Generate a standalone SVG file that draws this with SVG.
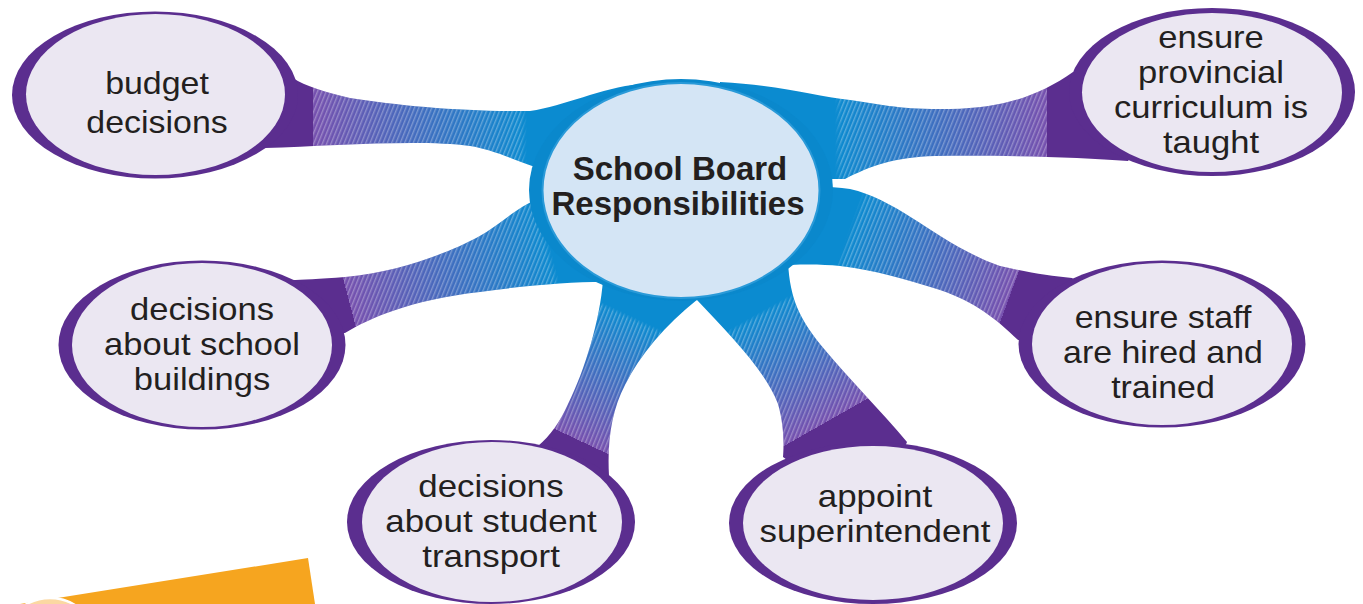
<svg xmlns="http://www.w3.org/2000/svg" width="1363" height="604" viewBox="0 0 1363 604">
<style>
.ring{fill:#5b2e8f}
.in{fill:#ebe7f2}
.t{font-family:"Liberation Sans",Arial,sans-serif;font-size:32px;fill:#231f20;text-anchor:middle}
.tb{font-family:"Liberation Sans",Arial,sans-serif;font-size:33px;font-weight:bold;fill:#231f20;text-anchor:middle}
.hatch{fill:url(#hatch);opacity:0.3}
</style>
<defs>
<pattern id="hatch" width="4" height="4" patternUnits="userSpaceOnUse" patternTransform="rotate(22)">
<rect width="1.4" height="4" fill="#ffffff"/>
</pattern>
<path id="a1" d="M640,150 L640,84 C600,88 565,106 530,111 C470,112 400,106 350,98 C325,92 305,86 293,78 L200,95 L265,148 C330,146 420,139 470,146 C490,149 510,158 535,167 L640,167 Z"/>
<path id="a2" d="M720,150 L720,82 C780,85 815,96 850,100 C880,104 900,110 950,109 C1005,108 1040,95 1073,72 L1180,92 L1128,161 C1080,157 1000,155 935,156 C895,157 870,166 845,179 L720,179 Z"/>
<path id="a3" d="M720,230 L770,186 C800,186 830,186 850,189 C900,200 940,245 1000,266 C1030,273 1050,276 1072,278 L1150,340 L1018,340 C995,318 975,302 940,290 C905,279 875,270 840,266 C820,264 800,264 770,266 Z"/>
<path id="a4" d="M640,250 L540,198 C515,208 500,225 478,237 C450,252 400,272 345,277 C320,279 300,280 292,280 L202,345 L345,333 C370,318 410,300 480,292 C530,285 570,282 603,282 L640,282 Z"/>
<path id="a5" d="M650,250 L603,280 C600,320 585,370 568,404 C560,422 550,436 538,446 L492,522 L609,476 C607,440 612,410 625,385 C640,355 665,325 698,299 L700,250 Z"/>
<path id="a6" d="M697,240 L697,300 C730,335 765,370 778,404 C784,425 784,445 783,457 L873,523 L907,442 C880,410 850,380 825,350 C800,320 790,300 788,262 Z"/>
<linearGradient id="g1" gradientUnits="userSpaceOnUse" x1="527" y1="0" x2="300" y2="0"><stop offset="0" stop-color="#0b8bd0"/><stop offset="0.943" stop-color="#7650ae"/><stop offset="0.943" stop-color="#5b2e8f"/><stop offset="1" stop-color="#5b2e8f"/></linearGradient>
<linearGradient id="g2" gradientUnits="userSpaceOnUse" x1="835" y1="0" x2="1055" y2="0"><stop offset="0" stop-color="#0b8bd0"/><stop offset="0.964" stop-color="#7650ae"/><stop offset="0.964" stop-color="#5b2e8f"/><stop offset="1" stop-color="#5b2e8f"/></linearGradient>
<linearGradient id="g3" gradientUnits="userSpaceOnUse" x1="850" y1="226" x2="1030" y2="292"><stop offset="0" stop-color="#0b8bd0"/><stop offset="0.908" stop-color="#7650ae"/><stop offset="0.908" stop-color="#5b2e8f"/><stop offset="1" stop-color="#5b2e8f"/></linearGradient>
<linearGradient id="g4" gradientUnits="userSpaceOnUse" x1="550" y1="245" x2="340" y2="300"><stop offset="0" stop-color="#0b8bd0"/><stop offset="0.961" stop-color="#7650ae"/><stop offset="0.961" stop-color="#5b2e8f"/><stop offset="1" stop-color="#5b2e8f"/></linearGradient>
<linearGradient id="g5" gradientUnits="userSpaceOnUse" x1="636" y1="318" x2="575" y2="448"><stop offset="0" stop-color="#0b8bd0"/><stop offset="0.94" stop-color="#7650ae"/><stop offset="0.94" stop-color="#5b2e8f"/><stop offset="1" stop-color="#5b2e8f"/></linearGradient>
<linearGradient id="g6" gradientUnits="userSpaceOnUse" x1="758" y1="313" x2="830" y2="440"><stop offset="0" stop-color="#0b8bd0"/><stop offset="0.88" stop-color="#7650ae"/><stop offset="0.88" stop-color="#5b2e8f"/><stop offset="1" stop-color="#5b2e8f"/></linearGradient>
<linearGradient id="m1" gradientUnits="userSpaceOnUse" x1="527" y1="0" x2="300" y2="0"><stop offset="0" stop-color="#000"/><stop offset="0.03" stop-color="#fff"/><stop offset="0.943" stop-color="#fff"/><stop offset="0.943" stop-color="#000"/></linearGradient>
<linearGradient id="m2" gradientUnits="userSpaceOnUse" x1="835" y1="0" x2="1055" y2="0"><stop offset="0" stop-color="#000"/><stop offset="0.03" stop-color="#fff"/><stop offset="0.964" stop-color="#fff"/><stop offset="0.964" stop-color="#000"/></linearGradient>
<linearGradient id="m3" gradientUnits="userSpaceOnUse" x1="850" y1="226" x2="1030" y2="292"><stop offset="0" stop-color="#000"/><stop offset="0.03" stop-color="#fff"/><stop offset="0.908" stop-color="#fff"/><stop offset="0.908" stop-color="#000"/></linearGradient>
<linearGradient id="m4" gradientUnits="userSpaceOnUse" x1="550" y1="245" x2="340" y2="300"><stop offset="0" stop-color="#000"/><stop offset="0.03" stop-color="#fff"/><stop offset="0.961" stop-color="#fff"/><stop offset="0.961" stop-color="#000"/></linearGradient>
<linearGradient id="m5" gradientUnits="userSpaceOnUse" x1="636" y1="318" x2="575" y2="448"><stop offset="0" stop-color="#000"/><stop offset="0.03" stop-color="#fff"/><stop offset="0.94" stop-color="#fff"/><stop offset="0.94" stop-color="#000"/></linearGradient>
<linearGradient id="m6" gradientUnits="userSpaceOnUse" x1="758" y1="313" x2="830" y2="440"><stop offset="0" stop-color="#000"/><stop offset="0.03" stop-color="#fff"/><stop offset="0.88" stop-color="#fff"/><stop offset="0.88" stop-color="#000"/></linearGradient>
<mask id="k1" maskUnits="userSpaceOnUse" x="0" y="0" width="1363" height="604"><use href="#a1" fill="url(#m1)"/></mask>
<mask id="k2" maskUnits="userSpaceOnUse" x="0" y="0" width="1363" height="604"><use href="#a2" fill="url(#m2)"/></mask>
<mask id="k3" maskUnits="userSpaceOnUse" x="0" y="0" width="1363" height="604"><use href="#a3" fill="url(#m3)"/></mask>
<mask id="k4" maskUnits="userSpaceOnUse" x="0" y="0" width="1363" height="604"><use href="#a4" fill="url(#m4)"/></mask>
<mask id="k5" maskUnits="userSpaceOnUse" x="0" y="0" width="1363" height="604"><use href="#a5" fill="url(#m5)"/></mask>
<mask id="k6" maskUnits="userSpaceOnUse" x="0" y="0" width="1363" height="604"><use href="#a6" fill="url(#m6)"/></mask>
</defs>
<rect width="1363" height="604" fill="#ffffff"/>
<g id="decoration">
<polygon points="20,604 308,558 315,604" fill="#f6a51f"/>
<circle cx="50" cy="645" r="47" fill="#fbd8a2" stroke="#ffffff" stroke-width="2.5"/>
</g>
<g id="connectors">
<use href="#a1" fill="url(#g1)"/><use href="#a1" class="hatch" mask="url(#k1)"/>
<use href="#a2" fill="url(#g2)"/><use href="#a2" class="hatch" mask="url(#k2)"/>
<use href="#a3" fill="url(#g3)"/><use href="#a3" class="hatch" mask="url(#k3)"/>
<use href="#a4" fill="url(#g4)"/><use href="#a4" class="hatch" mask="url(#k4)"/>
<use href="#a5" fill="url(#g5)"/><use href="#a5" class="hatch" mask="url(#k5)"/>
<use href="#a6" fill="url(#g6)"/><use href="#a6" class="hatch" mask="url(#k6)"/>
</g>
<g id="center">
<ellipse cx="681" cy="190" rx="152" ry="111" fill="#0a88cc"/>
<ellipse cx="681" cy="190.5" rx="138.5" ry="107.5" fill="#d4e5f5" stroke="#2a9ad8" stroke-width="2"/>
<text class="tb" x="680" y="180">School Board<tspan x="678" dy="35">Responsibilities</tspan></text>
</g>
<g id="node-budget">
<ellipse class="ring" cx="155" cy="95" rx="143" ry="83.5"/>
<ellipse class="in" cx="155.5" cy="94.5" rx="129.5" ry="80.5"/>
<text class="t" transform="translate(157 0) scale(1.06 1)" x="0" y="94">budget<tspan x="0" dy="39">decisions</tspan></text>
</g>
<g id="node-curriculum">
<ellipse class="ring" cx="1212" cy="92" rx="143" ry="84"/>
<ellipse class="in" cx="1212" cy="92.5" rx="130" ry="79.5"/>
<text class="t" transform="translate(1211 0) scale(1.08 1)" x="0" y="48">ensure<tspan x="0" dy="35">provincial</tspan><tspan x="0" dy="35">curriculum is</tspan><tspan x="0" dy="35">taught</tspan></text>
</g>
<g id="node-buildings">
<ellipse class="ring" cx="202" cy="345" rx="143.5" ry="84.5"/>
<ellipse class="in" cx="202" cy="345" rx="130" ry="82"/>
<text class="t" transform="translate(202 0) scale(1.08 1)" x="0" y="320">decisions<tspan x="0" dy="35">about school</tspan><tspan x="0" dy="35">buildings</tspan></text>
</g>
<g id="node-transport">
<ellipse class="ring" cx="491" cy="522" rx="144" ry="82"/>
<ellipse class="in" cx="492" cy="522" rx="130" ry="80"/>
<text class="t" transform="translate(491 0) scale(1.09 1)" x="0" y="497">decisions<tspan x="0" dy="35">about student</tspan><tspan x="0" dy="35">transport</tspan></text>
</g>
<g id="node-superintendent">
<ellipse class="ring" cx="873" cy="523" rx="144" ry="81"/>
<ellipse class="in" cx="873" cy="523" rx="130" ry="77"/>
<text class="t" transform="translate(875 0) scale(1.09 1)" x="0" y="507">appoint<tspan x="0" dy="35">superintendent</tspan></text>
</g>
<g id="node-staff">
<ellipse class="ring" cx="1162" cy="344" rx="143.5" ry="83.5"/>
<ellipse class="in" cx="1162" cy="344" rx="130" ry="81"/>
<text class="t" transform="translate(1163 0) scale(1.06 1)" x="0" y="328">ensure staff<tspan x="0" dy="35">are hired and</tspan><tspan x="0" dy="35">trained</tspan></text>
</g>
</svg>
